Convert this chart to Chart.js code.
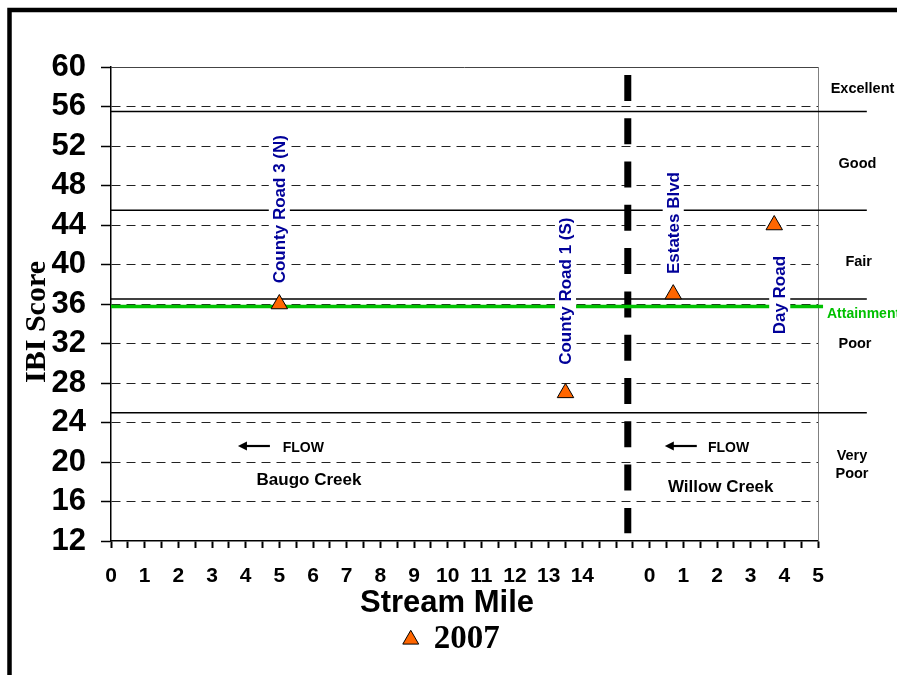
<!DOCTYPE html>
<html>
<head>
<meta charset="utf-8">
<title>IBI Score by Stream Mile</title>
<script src="https://cdn.jsdelivr.net/npm/chart.js@4.4.1/dist/chart.umd.min.js"></script>
<style>
  html, body { margin: 0; padding: 0; background: #fff; }
  #wrap { width: 897px; height: 675px; }
</style>
</head>
<body>
<div id="wrap"><canvas id="ibiChart" width="897" height="675"></canvas></div>
<script>
// sites sampled in 2007
const sites = ['County Road 3 (N)', 'County Road 1 (S)', 'Estates Blvd', 'Day Road'];
const siteCreek = ['Baugo Creek', 'Baugo Creek', 'Willow Creek', 'Willow Creek'];
const streamMile = [5, 13.5, 0.7, 3.7];
const ibi2007 = [36, 27, 37, 44];

// axis labels
const baugoMiles = [0, 1, 2, 3, 4, 5, 6, 7, 8, 9, 10, 11, 12, 13, 14];
const willowMiles = [0, 1, 2, 3, 4, 5];
const willowStart = 16;     // where Willow Creek mile 0 sits on the shared axis
const creekDivide = 15.35;  // dashed divider between the two creeks
const ibiTicks = [12, 16, 20, 24, 28, 32, 36, 40, 44, 48, 52, 56, 60];

// integrity classes
const classNames = ['Excellent', 'Good', 'Fair', 'Poor', 'Very\nPoor'];
const classBreaks = [55.5, 45.5, 36.5, 25];
const attainment = 35.75;

const SANS = '"Liberation Sans", Arial, sans-serif';
const SERIF = '"Liberation Serif", "Times New Roman", serif';
const xPos = streamMile.map((m, i) => siteCreek[i] === 'Willow Creek' ? willowStart + m : m);

// label placement (not data)
const siteLabelY = [45.6, 37.3, 44.2, 36.9];
const siteLabelDx = [0, 0, 0, 5.5];
const classLabelY = [57.8, 50.2, 40.25, 31.95, 19.7];
const classLabelDx = [44.5, 39.5, 40.7, 37, 34];

const annotations = {
  id: 'annotations',
  beforeDraw(chart) {
    const ctx = chart.ctx;
    ctx.save();
    ctx.fillStyle = '#fff';
    ctx.fillRect(0, 0, chart.width, chart.height);
    ctx.strokeStyle = '#000';
    ctx.lineWidth = 4.5;
    ctx.strokeRect(9.5, 10, chart.width + 20, chart.height + 20);
    ctx.restore();
  },
  beforeDatasetsDraw(chart) {
    const {ctx, chartArea: a} = chart;
    ctx.save();
    ctx.lineWidth = 1;
    ctx.strokeStyle = '#444';
    ctx.beginPath();
    ctx.moveTo(a.left, a.top + 0.5);
    ctx.lineTo(a.right, a.top + 0.5);
    ctx.stroke();
    ctx.strokeStyle = '#808080';
    ctx.beginPath();
    ctx.moveTo(a.right + 0.5, a.top);
    ctx.lineTo(a.right + 0.5, a.bottom);
    ctx.stroke();
    ctx.restore();
  },
  afterDatasetsDraw(chart) {
    const ctx = chart.ctx;
    const y = chart.scales.y;
    const meta = chart.getDatasetMeta(0);
    sites.forEach((name, i) => {
      const pt = meta.data[i];
      const size = 17;
      ctx.save();
      ctx.translate(pt.x + siteLabelDx[i], y.getPixelForValue(siteLabelY[i]));
      ctx.rotate(-Math.PI / 2);
      ctx.font = 'bold ' + size + 'px ' + SANS;
      const w = ctx.measureText(name).width;
      ctx.fillStyle = '#fff';
      ctx.fillRect(-w / 2 - 4, -size * 0.62, w + 8, size * 1.24);
      ctx.fillStyle = '#000099';
      ctx.textAlign = 'center';
      ctx.textBaseline = 'middle';
      ctx.fillText(name, 0, 1);
      ctx.restore();
    });
  },
  afterDraw(chart) {
    const {ctx, chartArea: a} = chart;
    const x = chart.scales.x, y = chart.scales.y;
    const px = v => x.getPixelForValue(v);
    const py = v => y.getPixelForValue(v);
    ctx.save();
    ctx.fillStyle = '#000';
    ctx.strokeStyle = '#000';
    ctx.textBaseline = 'middle';

    // axis titles
    ctx.save();
    ctx.translate(37, 322);
    ctx.rotate(-Math.PI / 2);
    ctx.font = 'bold 30px ' + SERIF;
    ctx.textAlign = 'center';
    ctx.fillText('IBI Score', 0, 0);
    ctx.restore();
    ctx.font = 'bold 31px ' + SANS;
    ctx.textAlign = 'center';
    ctx.fillText('Stream Mile', 447, 603);

    // class names on the right
    ctx.font = 'bold 14.5px ' + SANS;
    classNames.forEach((c, i) => {
      const lines = c.split('\n');
      const cy = py(classLabelY[i]);
      lines.forEach((t, j) => {
        ctx.fillText(t, a.right + classLabelDx[i], cy + (j - (lines.length - 1) / 2) * 18);
      });
    });

    ctx.fillStyle = '#00C000';
    ctx.textAlign = 'left';
    ctx.font = 'bold 14px ' + SANS;
    ctx.fillText('Attainment', a.right + 9, py(attainment) + 7.5);

    // flow direction + creek names
    ctx.fillStyle = '#000';
    const arrow = (tip, tail, yy) => {
      ctx.lineWidth = 2.2;
      ctx.beginPath();
      ctx.moveTo(tail, yy);
      ctx.lineTo(tip + 6, yy);
      ctx.stroke();
      ctx.beginPath();
      ctx.moveTo(tip, yy);
      ctx.lineTo(tip + 9, yy - 4.5);
      ctx.lineTo(tip + 9, yy + 4.5);
      ctx.closePath();
      ctx.fill();
    };
    arrow(px(3.77), px(4.72), py(21.62));
    arrow(px(willowStart + 0.45), px(willowStart + 1.4), py(21.62));
    ctx.font = 'bold 14px ' + SANS;
    ctx.fillText('FLOW', px(5.1), py(21.45));
    ctx.fillText('FLOW', px(willowStart + 1.73), py(21.42));
    ctx.font = 'bold 17px ' + SANS;
    ctx.textAlign = 'center';
    ctx.fillText('Baugo Creek', px(5.88), py(18.1));
    ctx.fillText('Willow Creek', px(willowStart + 2.11), py(17.45));
    ctx.restore();
  },
  afterLayout(chart) {
    // legend sits a little right of centre in the original
    chart.legend.left += 38;
    chart.legend.right += 38;
  }
};

const flatLine = (yv, x0, x1, color, width) => ({
  data: [{x: x0, y: yv}, {x: x1, y: yv}],
  showLine: true, pointRadius: 0, borderColor: color, borderWidth: width, clip: false
});

const datasets = [{
  label: '2007',
  data: xPos.map((xv, i) => ({x: xv, y: ibi2007[i]})),
  pointStyle: 'triangle',
  pointRadius: 9.5,
  pointHoverRadius: 9.5,
  backgroundColor: '#FF6600',
  borderColor: '#000',
  borderWidth: 1
}];
classBreaks.forEach(b => datasets.push(flatLine(b, 0, 22.45, '#000', 1.5)));
datasets.push(flatLine(attainment, 0, 21.15, '#00C000', 3.5));
datasets.push({
  data: [{x: creekDivide, y: 59.2}, {x: creekDivide, y: 12.78}],
  showLine: true, pointRadius: 0, borderColor: '#000', borderWidth: 7,
  borderDash: [26, 17.3], borderCapStyle: 'butt', clip: false
});

new Chart(document.getElementById('ibiChart'), {
  type: 'scatter',
  data: { datasets },
  options: {
    responsive: false,
    animation: false,
    events: [],
    layout: { padding: { left: 10, right: 79, top: 67, bottom: 9 } },
    plugins: {
      tooltip: { enabled: false },
      legend: {
        position: 'bottom',
        labels: {
          usePointStyle: true,
          boxWidth: 13,
          boxHeight: 13,
          color: '#000',
          font: { family: SERIF, size: 33, weight: 'bold' },
          filter: item => item.datasetIndex === 0
        }
      }
    },
    scales: {
      x: {
        type: 'linear',
        min: 0,
        max: 21,
        afterFit: s => { s.height = 72; },
        border: { color: '#000', width: 1.5 },
        grid: { drawOnChartArea: false, drawTicks: true, tickLength: 7, tickColor: '#000', tickWidth: 2 },
        ticks: {
          stepSize: 0.5,
          autoSkip: false,
          maxRotation: 0,
          minRotation: 0,
          padding: 16,
          color: '#000',
          font: { family: SANS, size: 21, weight: 'bold' },
          callback: v => {
            if (!Number.isInteger(v)) return '';
            if (baugoMiles.includes(v)) return String(v);
            if (willowMiles.includes(v - willowStart)) return String(v - willowStart);
            return '';
          }
        }
      },
      y: {
        min: ibiTicks[0],
        max: ibiTicks[ibiTicks.length - 1],
        afterFit: s => { s.width = 101; },
        afterBuildTicks: s => { s.ticks = ibiTicks.map(v => ({value: v})); },
        border: { color: '#000', width: 1.5, dash: [9, 6] },
        grid: {
          color: c => (c.tick && (c.tick.value === 12 || c.tick.value === 60)) ? 'rgba(0,0,0,0)' : '#222',
          lineWidth: 1,
          tickLength: 10,
          tickColor: '#000',
          tickWidth: 1.5,
          tickBorderDash: []
        },
        ticks: {
          autoSkip: false,
          padding: 15,
          color: '#000',
          font: { family: SANS, size: 31, weight: 'bold' }
        }
      }
    }
  },
  plugins: [annotations]
});
</script>
</body>
</html>
